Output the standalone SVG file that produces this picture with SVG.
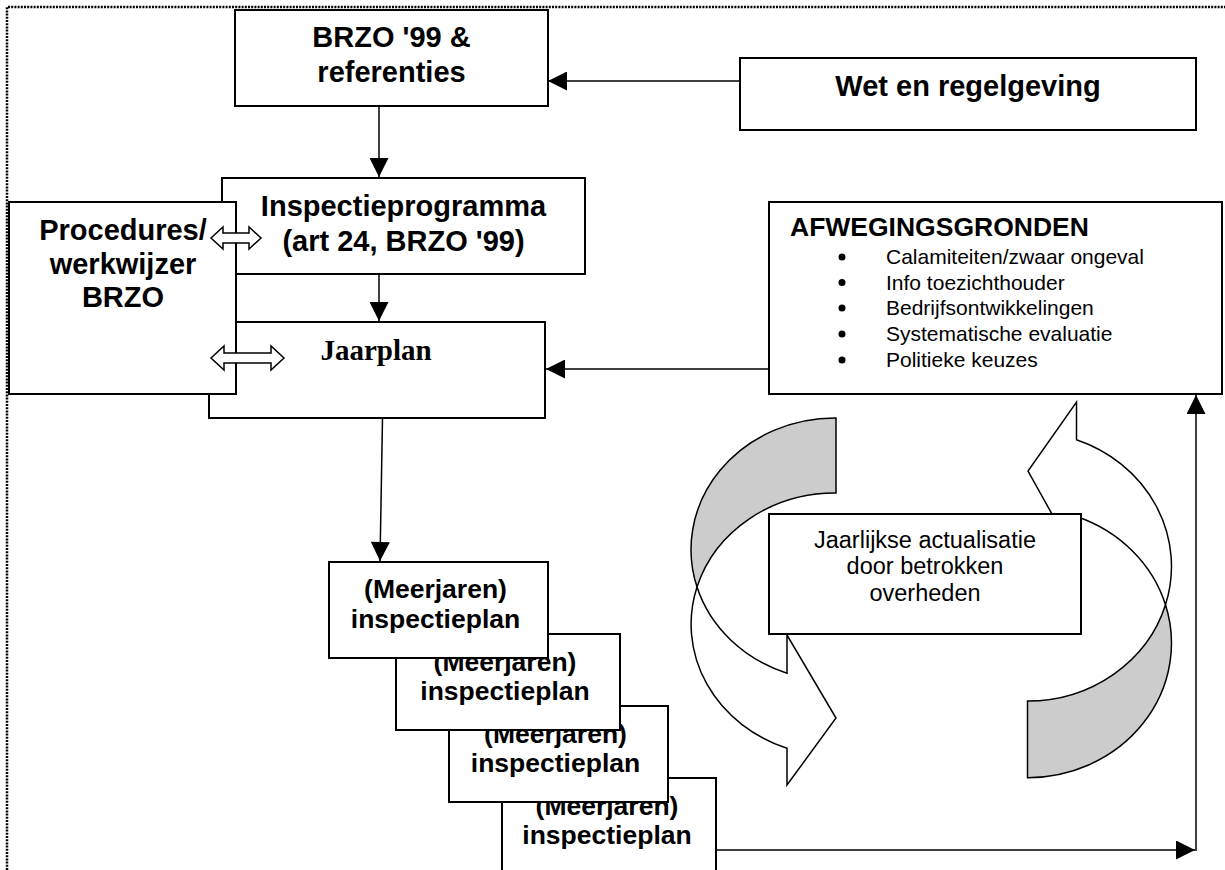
<svg xmlns="http://www.w3.org/2000/svg" width="1225" height="870" viewBox="0 0 1225 870">
<defs>
<style>
.box{fill:#fff;stroke:#000;stroke-width:2}
.conn{fill:none;stroke:#000;stroke-width:1.5}
.dbl{fill:#fff;stroke:#000;stroke-width:1.5;stroke-linejoin:miter}
.cw{fill:#fff;stroke:#000;stroke-width:1.5}
.cg{fill:#cccccc;stroke:#000;stroke-width:1.5}
.t{font-family:"Liberation Sans",Arial,sans-serif;font-weight:bold;font-size:29px;text-anchor:middle;fill:#000}
.m{font-family:"Liberation Sans",Arial,sans-serif;font-weight:bold;font-size:26.5px;text-anchor:middle;fill:#000}
.s{font-family:"Liberation Serif","Times New Roman",serif;font-weight:bold;font-size:29px;text-anchor:middle;fill:#000}
.h{font-family:"Liberation Sans",Arial,sans-serif;font-weight:bold;font-size:26.5px;fill:#000}
.li{font-family:"Liberation Sans",Arial,sans-serif;font-size:21px;fill:#000}
.r{font-family:"Liberation Sans",Arial,sans-serif;font-size:23.5px;text-anchor:middle;fill:#000}
.border{fill:none;stroke:#000;stroke-width:2.5;stroke-dasharray:2 1.2}
</style>
<marker id="ah" viewBox="0 0 10 10" refX="10" refY="5" markerUnits="userSpaceOnUse" markerWidth="20" markerHeight="19" orient="auto">
<path d="M0,0 L10,5 L0,10 Z" fill="#000"/>
</marker>
</defs>
<rect width="1225" height="870" fill="#fff"/>
<path class="border" d="M7,870 L7,7 L1225,7"/>

<g id="brzo">
<rect class="box" x="235" y="10" width="313" height="96"/>
<text class="t" x="391.5" y="47">BRZO '99 &amp;</text>
<text class="t" x="391.5" y="82">referenties</text>
</g>
<g id="wet">
<rect class="box" x="740" y="58" width="456" height="72"/>
<text class="t" x="968" y="96">Wet en regelgeving</text>
</g>
<g id="jaarplan">
<rect class="box" x="209" y="322" width="336" height="96"/>
<text class="s" x="376" y="360">Jaarplan</text>
</g>
<g id="inspectieprogramma">
<rect class="box" x="222" y="178" width="363" height="96"/>
<text class="t" x="403.5" y="216">Inspectieprogramma</text>
<text class="t" x="403.5" y="251">(art 24, BRZO '99)</text>
</g>
<g id="procedures">
<rect class="box" x="9" y="202" width="227" height="192"/>
<text class="t" x="123" y="240">Procedures/</text>
<text class="t" x="123" y="274">werkwijzer</text>
<text class="t" x="123" y="307">BRZO</text>
</g>
<g id="afwegingsgronden">
<rect class="box" x="769" y="202" width="453" height="192"/>
<text class="h" x="790" y="236">AFWEGINGSGRONDEN</text>
<circle cx="842" cy="257" r="3.5"/>
<circle cx="842" cy="282.5" r="3.5"/>
<circle cx="842" cy="308" r="3.5"/>
<circle cx="842" cy="334" r="3.5"/>
<circle cx="842" cy="360" r="3.5"/>
<text class="li" x="886" y="264">Calamiteiten/zwaar ongeval</text>
<text class="li" x="886" y="289.5">Info toezichthouder</text>
<text class="li" x="886" y="315">Bedrijfsontwikkelingen</text>
<text class="li" x="886" y="341">Systematische evaluatie</text>
<text class="li" x="886" y="367">Politieke keuzes</text>
</g>

<g id="cycle-arrows">
<g id="curved-left">
<path class="cg" d="M836,418 A144,131.5 0 0 0 697,587 A144,131.5 0 0 1 836,493 Z"/>
<path class="cw" d="M697,587 A144,131.5 0 0 0 787,748.2 L787,785 L836,718 L787,635 L787,673.2 A144,131.5 0 0 1 697,587 Z"/>
</g>
<g id="curved-right">
<path class="cg" d="M1027.5,777.7 A144,134.6 0 0 0 1165.5,604.75 A144,134.6 0 0 1 1027.5,701 Z"/>
<path class="cw" d="M1165.5,604.75 A144,134.6 0 0 0 1076.5,439.8 L1076.5,402 L1028,471 L1076.5,558 L1076.5,516.5 A144,134.6 0 0 1 1165.5,604.75 Z"/>
</g>
</g>
<g id="jaarlijkse">
<rect class="box" x="769" y="514" width="312" height="120"/>
<text class="r" x="925" y="547.5">Jaarlijkse actualisatie</text>
<text class="r" x="925" y="574">door betrokken</text>
<text class="r" x="925" y="601">overheden</text>
</g>

<g id="inspectieplan-4">
<rect class="box" x="502" y="778" width="214" height="110"/>
<text class="m" x="607" y="815">(Meerjaren)</text>
<text class="m" x="607" y="844">inspectieplan</text>
</g>
<g id="inspectieplan-3">
<rect class="box" x="449" y="706" width="219" height="96"/>
<text class="m" x="555.5" y="743">(Meerjaren)</text>
<text class="m" x="555.5" y="772">inspectieplan</text>
</g>
<g id="inspectieplan-2">
<rect class="box" x="396" y="634" width="224" height="96"/>
<text class="m" x="505" y="671">(Meerjaren)</text>
<text class="m" x="505" y="700">inspectieplan</text>
</g>
<g id="inspectieplan-1">
<rect class="box" x="329" y="562" width="219" height="96"/>
<text class="m" x="435.5" y="598">(Meerjaren)</text>
<text class="m" x="435.5" y="628">inspectieplan</text>
</g>

<g id="connectors">
<line class="conn" x1="740" y1="81" x2="548" y2="81" marker-end="url(#ah)"/>
<line class="conn" x1="379" y1="106" x2="379" y2="177" marker-end="url(#ah)"/>
<line class="conn" x1="379" y1="274" x2="379" y2="321" marker-end="url(#ah)"/>
<line class="conn" x1="769" y1="369" x2="546" y2="369" marker-end="url(#ah)"/>
<line class="conn" x1="382.5" y1="418" x2="380" y2="561" marker-end="url(#ah)"/>
<line class="conn" x1="716" y1="850" x2="1195" y2="850" marker-end="url(#ah)"/>
<line class="conn" x1="1196" y1="851" x2="1196" y2="395" marker-end="url(#ah)"/>
<path class="dbl" d="M211,238 L223,227 L223,233 L249,233 L249,227 L261,238 L249,249 L249,243 L223,243 L223,249 Z"/>
<path class="dbl" d="M211,358 L224,346 L224,353 L271,353 L271,346 L284,358 L271,370 L271,363 L224,363 L224,370 Z"/>
</g>
</svg>
